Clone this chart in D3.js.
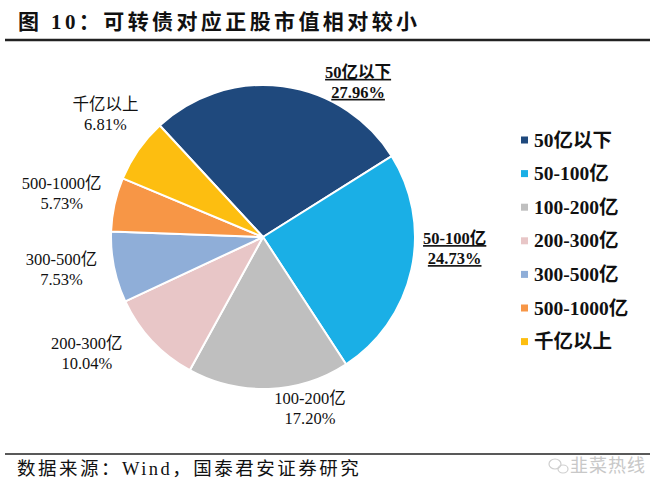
<!DOCTYPE html>
<html><head><meta charset="utf-8">
<script src="https://cdn.jsdelivr.net/npm/d3@7"></script>
<style>
html,body{margin:0;padding:0;background:#fff;}
svg{display:block;}
</style>
</head><body>
<svg id="c" width="657" height="487"></svg>
<script>
// ---- data ----
const categories = ["50亿以下","50-100亿","100-200亿","200-300亿","300-500亿","500-1000亿","千亿以上"];
const shares = [27.96, 24.73, 17.20, 10.04, 7.53, 5.73, 6.81];
const percentLabels = ["27.96%","24.73%","17.20%","10.04%","7.53%","5.73%","6.81%"];
const colors = ["#1F497D","#1AAFE6","#BFBFBF","#E8C6C7","#8FAED8","#F79646","#FDBE10"];
const titleText = "图 10：可转债对应正股市值相对较小";
const sourceText = "数据来源：Wind，国泰君安证券研究";
const watermarkText = "韭菜热线";

// ---- layout ----
const cx = 263, cy = 237, R = 152;
const startDeg = -42.8;
// label placement (angle clockwise from 12 o'clock, distance from centre)
const labelLayout = [[31.5,182],[93.3,192],[164.6,177],[236.6,211],[261,204],[282.3,206],[308,200]];
const boldLabels = [true,true,false,false,false,false,false];

const svg = d3.select("#c");
const serif = "'Liberation Serif','Times New Roman','Noto Sans CJK SC',serif";

// title
svg.append("text").attr("x",18).attr("y",29)
  .attr("font-family","'Liberation Serif','Noto Sans CJK SC',serif")
  .attr("font-weight","bold").attr("font-size",21).attr("fill","#111")
  .attr("letter-spacing",3.4)
  .text(titleText);
svg.append("line").attr("x1",5).attr("x2",650).attr("y1",40).attr("y2",40)
  .attr("stroke","#222").attr("stroke-width",2.5);

// pie
const pie = d3.pie().sort(null).value(d=>d)
  .startAngle(startDeg*Math.PI/180).endAngle(startDeg*Math.PI/180 + 2*Math.PI);
const arcs = pie(shares);
const arc = d3.arc().innerRadius(0).outerRadius(R);
const g = svg.append("g").attr("transform",`translate(${cx},${cy})`);
g.selectAll("path").data(arcs).join("path")
  .attr("d",arc).attr("fill",(d,i)=>colors[i])
  .attr("stroke","#fff").attr("stroke-width",2).attr("stroke-linejoin","round");

// data labels
const lab = g.selectAll("g.lab").data(arcs).join("g").attr("class","lab")
  .attr("transform",(d,i)=>{
    const a = labelLayout[i][0]*Math.PI/180, r = labelLayout[i][1];
    return `translate(${r*Math.sin(a)},${-r*Math.cos(a)})`;
  });
lab.each(function(d,i){
  const s = d3.select(this);
  const t = s.append("text").attr("text-anchor","middle")
    .attr("font-family",serif).attr("font-size",16.5).attr("fill","#111")
    .attr("font-weight",boldLabels[i]?"bold":"normal")
    .style("text-decoration",boldLabels[i]?"underline":"none");
  t.append("tspan").attr("x",0).attr("y",-4).text(categories[i]);
  t.append("tspan").attr("x",0).attr("y",16).text(percentLabels[i]);
});

// legend
const lg = svg.append("g").attr("transform","translate(521,140)");
const rowH = 33.6;
const item = lg.selectAll("g").data(categories).join("g")
  .attr("transform",(d,i)=>`translate(0,${i*rowH})`);
item.append("rect").attr("x",0).attr("y",-3.5).attr("width",7).attr("height",7)
  .attr("fill",(d,i)=>colors[i]);
item.append("text").attr("x",13).attr("y",6.5)
  .attr("font-family",serif).attr("font-weight","bold").attr("font-size",19.5).attr("fill","#111")
  .text(d=>d);

// source
svg.append("line").attr("x1",5).attr("x2",650).attr("y1",454).attr("y2",454)
  .attr("stroke","#222").attr("stroke-width",1.5);
svg.append("text").attr("x",17).attr("y",475)
  .attr("font-family",serif).attr("font-size",18.5).attr("fill","#111")
  .attr("letter-spacing",2.5)
  .text(sourceText);
// watermark
const wm = svg.append("g").attr("fill","none").attr("stroke","#cfcfcf").attr("stroke-width",1.2);
wm.append("ellipse").attr("cx",555).attr("cy",464).attr("rx",6).attr("ry",5);
wm.append("ellipse").attr("cx",563).attr("cy",469).attr("rx",5).attr("ry",4);
svg.append("text").attr("x",646).attr("y",472).attr("text-anchor","end")
  .attr("font-family","'Noto Sans CJK SC',sans-serif").attr("font-size",18).attr("fill","#c8c8c8")
  .attr("letter-spacing",1)
  .text(watermarkText);
</script>
</body></html>
